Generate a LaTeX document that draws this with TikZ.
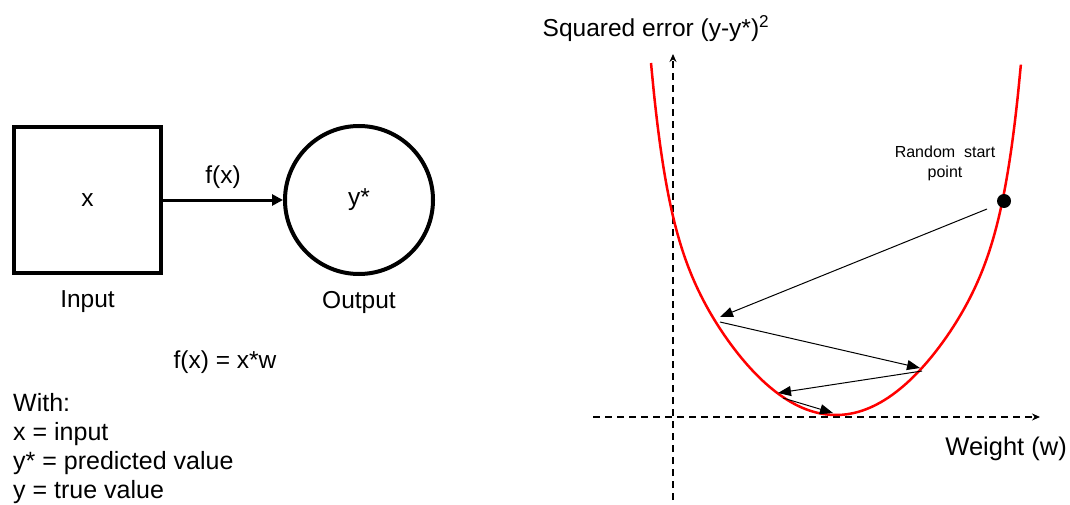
\documentclass[tikz,border=0pt]{standalone}
\usepackage{fontspec}
\setmainfont{Liberation Sans}
\usetikzlibrary{arrows.meta, positioning}

\begin{document}
\begin{tikzpicture}[
    x=1pt, y=-1pt,
    every node/.style={font=\fontsize{24.5}{29}\selectfont, inner sep=0pt},
    inputbox/.style={rectangle, draw=black, line width=4pt, minimum width=147pt, minimum height=146pt},
    outputnode/.style={circle, draw=black, line width=4pt, minimum size=148pt},
    axis/.style={draw, line width=1.5pt, dash pattern=on 7pt off 5pt, -{Stealth[length=8pt, width=7pt]}},
    gdstep/.style={draw, line width=1pt, -{Triangle[length=13pt, width=10pt]}},
    smalltext/.style={font=\fontsize{16}{20}\selectfont, align=center}
  ]
  \useasboundingbox (0,0) rectangle (1070,505);

  % left part: input -> output
  \node[inputbox] (input) at (87.5,200) {x};
  \node[outputnode] (output) at (359,200) {y*};
  \draw[line width=3pt, -{Triangle[length=11pt, width=11pt]}] (input) -- node[above=10pt] (fx) {f(x)} (output);
  \node[below=15pt of input] (inputlabel) {Input};
  \node[below=15pt of output] (outputlabel) {Output};

  \node[anchor=base] (formula) at (225,368) {f(x) = x*w};
  \node[anchor=base west, align=left, font=\fontsize{25}{29}\selectfont] (legend) at (13,498) {With:\\x = input\\y* = predicted value\\y = true value};

  % right part: error curve
  \coordinate (xaxis-start) at (593,417);
  \coordinate (xaxis-end) at (1040,417);
  \coordinate (yaxis-start) at (673,500);
  \coordinate (yaxis-end) at (673,54);
  \draw[axis] (xaxis-start) -- (xaxis-end);
  \draw[axis] (yaxis-start) -- (yaxis-end);
  \node[anchor=base] (ylabel) at (656,37) {Squared error (y-y*)\textsuperscript{2}};
  \node[anchor=base east, font=\fontsize{25.5}{30}\selectfont] (xlabel) at (1067,455) {Weight (w)};

  \draw[red, line width=2.5pt] plot[domain=-1:1, samples=120, smooth]
    ({836+185*\x}, {415-352*(0.62*\x*\x+0.38*(\x*\x)^6)});

  \node[circle, fill=black, minimum size=14pt] (start) at (1004,201) {};
  \node[smalltext, anchor=base] (startlabel) at (945,178) {Random\ \ start\\point};

  % gradient steps
  \coordinate (s1) at (987,209);
  \coordinate (e1) at (720,317);
  \coordinate (s2) at (720,322);
  \coordinate (e2) at (920,368);
  \coordinate (s3) at (922,371);
  \coordinate (e3) at (778,393);
  \coordinate (s4) at (783,398);
  \coordinate (e4) at (833,413);
  \draw[gdstep] (s1) -- (e1);
  \draw[gdstep] (s2) -- (e2);
  \draw[gdstep] (s3) -- (e3);
  \draw[gdstep] (s4) -- (e4);
\end{tikzpicture}
\end{document}
